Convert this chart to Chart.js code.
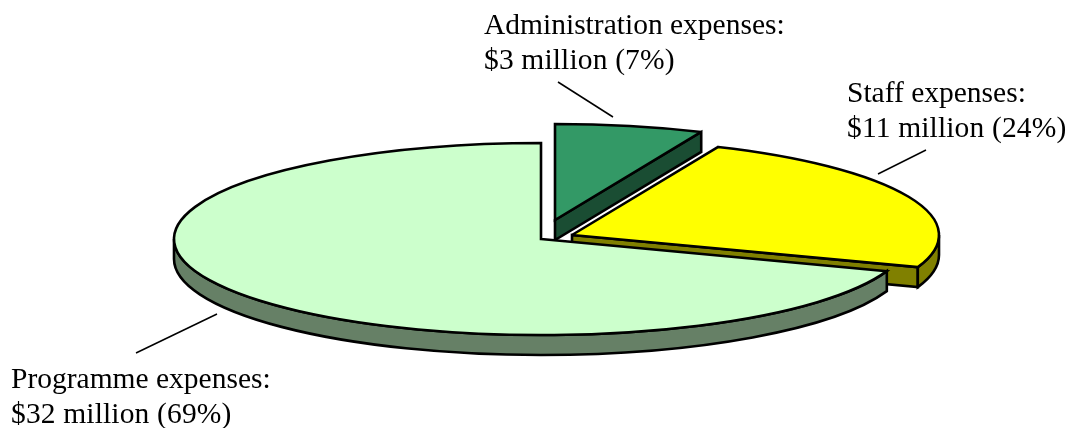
<!DOCTYPE html>
<html>
<head>
<meta charset="utf-8">
<style>
  html, body { margin: 0; padding: 0; background: #fff; }
  #wrap { width: 1079px; height: 428px; }
</style>
<script src="https://cdn.jsdelivr.net/npm/chart.js@4"></script>
</head>
<body>
<div id="wrap"><canvas id="pie" width="1079" height="428"></canvas></div>
<script>
const categories = ['Administration expenses:', 'Staff expenses:', 'Programme expenses:'];
const millions = [3, 11, 32];
const shares = [7, 24, 69];
const faceColours = ['#339966', '#FFFF00', '#CCFFCC'];
const wallColours = ['#1A4D33', '#808000', '#668066'];

// Geometry of the tilted disc: chart units are mapped to page pixels by an affine squash.
const BASE_RADIUS = 150;
const TILT = { cx: 541, cy: 239, sx: 367 / BASE_RADIUS, sy: 96 / BASE_RADIUS, depth: 20 };
const PEN = 2.6;
// Slice displacement in chart units, indexed like the data.
const explodeX = [14 / TILT.sx, 31 / TILT.sx, 0];
const explodeY = [-19 / TILT.sy, -4 / TILT.sy, 0];

const labelLayout = [
  { x: 484, y: 34, lead: [558, 82, 613, 117] },
  { x: 847, y: 102, lead: [926, 150, 878, 174] },
  { x: 11, y: 388, lead: [217, 314, 136, 353] }
];

function chartCentre(chart) {
  const a = chart.chartArea;
  return { x: (a.left + a.right) / 2, y: (a.top + a.bottom) / 2 };
}

function enterTilt(chart, ctx) {
  const { x, y } = chartCentre(chart);
  ctx.translate(TILT.cx, TILT.cy);
  ctx.scale(TILT.sx, TILT.sy);
  ctx.translate(-x, -y);
}

// Outlines are stroked in page pixels so the squash does not distort the pen.
function pageStroke(ctx) {
  ctx.setTransform(1, 0, 0, 1, 0, 0);
  ctx.lineWidth = PEN;
  ctx.strokeStyle = '#000';
  ctx.lineJoin = 'miter';
  ctx.miterLimit = 3;
  ctx.stroke();
}

function fillAndOutline(chart, ctx, colour, tracePath) {
  ctx.save();
  enterTilt(chart, ctx);
  ctx.beginPath();
  tracePath();
  ctx.closePath();
  ctx.fillStyle = colour;
  ctx.fill();
  pageStroke(ctx);
  ctx.restore();
}

const tiltPlugin = {
  id: 'tilt',
  afterDatasetsUpdate(chart) {
    chart.getDatasetMeta(0).data.forEach((arc, i) => {
      arc.x += explodeX[i];
      arc.y += explodeY[i];
    });
  },
  beforeDatasetsDraw(chart) {
    const ctx = chart.ctx;
    const arcs = chart.getDatasetMeta(0).data;
    const dy = TILT.depth / TILT.sy;
    arcs.forEach((arc, i) => {
      const a0 = arc.startAngle, a1 = arc.endAngle, r = arc.outerRadius;
      // Cut face along the closing edge when it is turned towards the viewer.
      if (Math.cos(a1) > 0.001) {
        const ex = arc.x + Math.cos(a1) * r, ey = arc.y + Math.sin(a1) * r;
        fillAndOutline(chart, ctx, wallColours[i], () => {
          ctx.moveTo(arc.x, arc.y);
          ctx.lineTo(ex, ey);
          ctx.lineTo(ex, ey + dy);
          ctx.lineTo(arc.x, arc.y + dy);
        });
      }
      // Rim band over the part of the arc that faces the viewer.
      const from = Math.max(a0, 0), to = Math.min(a1, Math.PI);
      if (to > from) {
        fillAndOutline(chart, ctx, wallColours[i], () => {
          ctx.arc(arc.x, arc.y, r, from, to);
          ctx.arc(arc.x, arc.y + dy, r, to, from, true);
        });
      }
    });
    ctx.save();
    enterTilt(chart, ctx);
  },
  afterDatasetsDraw(chart) {
    const ctx = chart.ctx;
    ctx.restore();
    // Top faces get their outline in page pixels.
    chart.getDatasetMeta(0).data.forEach(arc => {
      ctx.save();
      enterTilt(chart, ctx);
      ctx.beginPath();
      ctx.moveTo(arc.x, arc.y);
      ctx.arc(arc.x, arc.y, arc.outerRadius, arc.startAngle, arc.endAngle);
      ctx.closePath();
      pageStroke(ctx);
      ctx.restore();
    });
    // Callout text and leader lines.
    ctx.save();
    ctx.fillStyle = '#000';
    ctx.strokeStyle = '#000';
    ctx.lineWidth = 1.5;
    ctx.font = '29.5px "Liberation Serif"';
    ctx.textBaseline = 'alphabetic';
    categories.forEach((name, i) => {
      const l = labelLayout[i];
      ctx.letterSpacing = '0px';
      ctx.fillText(name, l.x, l.y);
      ctx.letterSpacing = '0.15px';
      ctx.fillText('$' + millions[i] + ' million (' + shares[i] + '%)', l.x, l.y + 35);
      ctx.beginPath();
      ctx.moveTo(l.lead[0], l.lead[1]);
      ctx.lineTo(l.lead[2], l.lead[3]);
      ctx.stroke();
    });
    ctx.restore();
  }
};

new Chart(document.getElementById('pie'), {
  type: 'pie',
  data: {
    labels: categories,
    datasets: [{
      data: millions,
      backgroundColor: faceColours,
      borderWidth: 0
    }]
  },
  options: {
    responsive: false,
    animation: false,
    radius: BASE_RADIUS,
    layout: { padding: 0 },
    plugins: { legend: { display: false }, tooltip: { enabled: false } }
  },
  plugins: [tiltPlugin]
});
</script>
</body>
</html>
